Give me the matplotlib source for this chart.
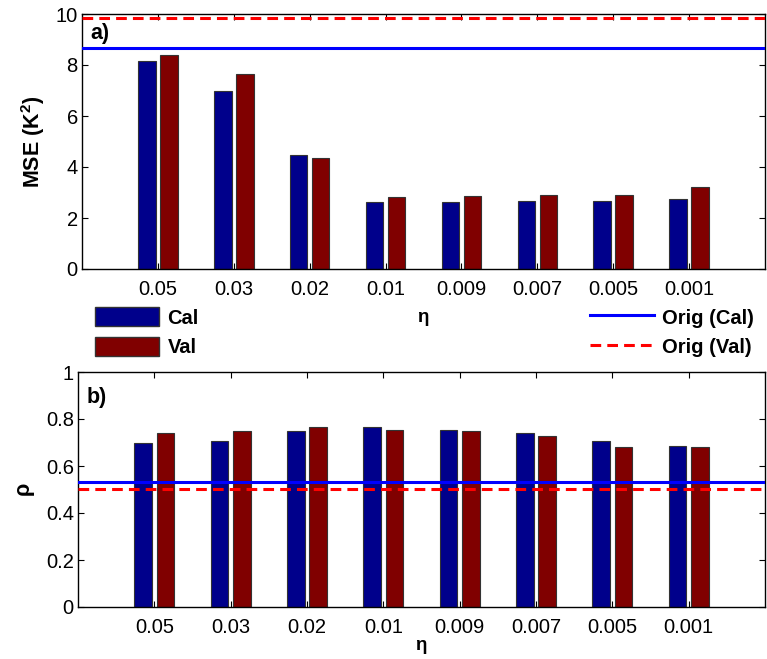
import numpy as np
import matplotlib
matplotlib.use("Agg")
import matplotlib.pyplot as plt
from matplotlib.patches import Patch
from matplotlib.lines import Line2D

plt.rcParams['font.family'] = ['Liberation Sans', 'DejaVu Sans']
plt.rcParams['mathtext.fontset'] = 'custom'
plt.rcParams['mathtext.rm'] = 'Liberation Sans'
plt.rcParams['mathtext.bf'] = 'Liberation Sans:bold'

# data
eta_labels = ['0.05', '0.03', '0.02', '0.01', '0.009', '0.007', '0.005', '0.001']
mse_cal = [8.15, 6.97, 4.47, 2.61, 2.61, 2.67, 2.67, 2.73]
mse_val = [8.40, 7.65, 4.34, 2.84, 2.85, 2.91, 2.91, 3.22]
rho_cal = [0.699, 0.706, 0.747, 0.767, 0.753, 0.740, 0.706, 0.686]
rho_val = [0.740, 0.747, 0.767, 0.753, 0.747, 0.726, 0.679, 0.679]
mse_orig_cal = 8.65
mse_orig_val = 9.84
rho_orig_cal = 0.530
rho_orig_val = 0.504

cal_color = '#00008B'
val_color = '#800000'
fs = 14.5

fig = plt.figure(figsize=(7.67, 6.59), dpi=100)
ax1 = fig.add_axes([82 / 767, 1 - 269 / 659, 683 / 767, 255 / 659])
ax2 = fig.add_axes([78 / 767, 1 - 607 / 659, 687 / 767, 235 / 659])

x = np.arange(1, len(eta_labels) + 1)
w = 0.23
off = 0.145


def panel(ax, cal, val, orig_cal, orig_val, ylim, yticks, ytl, ylabel, tag, tag_y, xlpad):
    ax.bar(x - off, cal, w, color=cal_color, edgecolor='#333333', linewidth=0.8, zorder=2)
    ax.bar(x + off, val, w, color=val_color, edgecolor='#333333', linewidth=0.8, zorder=2)
    ax.axhline(orig_cal, color='#0000FF', lw=2.2, zorder=3)
    ax.axhline(orig_val, color='#FF0000', lw=2.2, ls=(0, (3.5, 2.0)), zorder=3)
    ax.set_xlim(0, 9)
    ax.set_ylim(*ylim)
    ax.set_xticks(x)
    ax.set_xticklabels(eta_labels)
    ax.set_yticks(yticks)
    ax.set_yticklabels(ytl)
    ax.tick_params(direction='in', length=4, width=0.8, top=True, right=True,
                   labelsize=fs, pad=8)
    ax.tick_params(axis='y', pad=3)
    ax.set_ylabel(ylabel, fontsize=fs + 1, fontweight='bold', labelpad=6)
    ax.set_xlabel(r'$\mathbf{\eta}$', fontsize=fs - 1, labelpad=xlpad)
    for s in ax.spines.values():
        s.set_linewidth(1.0)
    ax.text(0.012, tag_y, tag, transform=ax.transAxes, fontsize=fs + 1, fontweight='bold',
            va='top', ha='left')


panel(ax1, mse_cal, mse_val, mse_orig_cal, mse_orig_val, (0, 10),
      [0, 2, 4, 6, 8, 10], ['0', '2', '4', '6', '8', '10'],
      r'MSE (K$^{\mathbf{2}}$)', 'a)', 0.965, 8)
panel(ax2, rho_cal, rho_val, rho_orig_cal, rho_orig_val, (0, 1),
      [0, 0.2, 0.4, 0.6, 0.8, 1], ['0', '0.2', '0.4', '0.6', '0.8', '1'],
      r'$\mathbf{\rho}$', 'b)', 0.935, 1)

h_bars = [Patch(facecolor=cal_color, edgecolor='#333333', label='Cal'),
          Patch(facecolor=val_color, edgecolor='#333333', label='Val')]
h_lines = [Line2D([], [], color='#0000FF', lw=2.2, label='Orig (Cal)'),
           Line2D([], [], color='#FF0000', lw=2.2, ls=(0, (3.5, 2.0)), label='Orig (Val)')]
leg_kw = dict(frameon=False, prop={'weight': 'bold', 'size': fs},
              handlelength=3.2, handleheight=1.1, labelspacing=0.45,
              handletextpad=0.4, borderpad=0, borderaxespad=0)
fig.legend(handles=h_bars, loc='upper left',
           bbox_to_anchor=(95 / 767, 1 - 307 / 659), **leg_kw)
fig.legend(handles=h_lines, loc='upper right',
           bbox_to_anchor=(754 / 767, 1 - 307 / 659), **leg_kw)

fig.savefig('out.png', dpi=100)
